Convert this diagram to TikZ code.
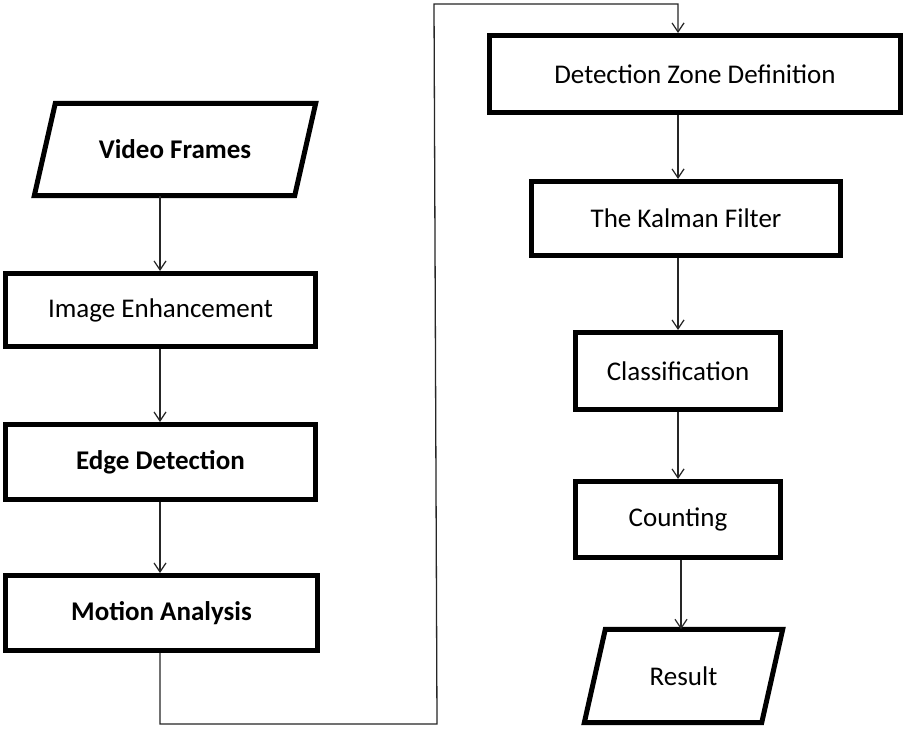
\documentclass[tikz,border=0pt]{standalone}
\usepackage{fontspec}
\setmainfont{Carlito}
\usetikzlibrary{arrows.meta,calc}
\begin{document}
\begin{tikzpicture}[x=1pt,y=-1pt,
  box/.style={draw=black,line width=5pt,inner sep=0pt,font=\fontsize{27}{30}\selectfont},
  ghost/.style={draw=none,inner sep=0pt,font=\fontsize{27}{30}\selectfont},
  para/.style={draw=black,line width=5pt,line join=miter},
  arr/.style={draw=black!85,line width=1.3pt,-{Straight Barb[length=9pt,width=12pt,line width=1.2pt]}},
  link/.style={draw=black!85,line width=1.3pt}]
\useasboundingbox (0,0) rectangle (917,733);
\fill[white] (0,0) rectangle (917,733);
% left column
\node[ghost,minimum width=281pt,minimum height=92pt] (vf) at (175,149.5) {\bfseries Video Frames};
\draw[para] ($(vf.north west)+(21,0)$) -- (vf.north east) -- ($(vf.south east)+(-21,0)$) -- (vf.south west) -- cycle;
\node[box,minimum width=310pt,minimum height=73pt] (ie) at (160.5,310) {Image Enhancement};
\node[box,minimum width=310pt,minimum height=75pt] (ed) at (160.5,462) {\bfseries Edge Detection};
\node[box,minimum width=312pt,minimum height=75pt] (ma) at (161.5,613) {\bfseries Motion Analysis};
% right column
\node[box,minimum width=411pt,minimum height=77pt] (dz) at (695,74) {Detection Zone Definition};
\node[box,minimum width=309pt,minimum height=74pt] (kf) at (686,218.5) {The Kalman Filter};
\node[box,minimum width=205pt,minimum height=77pt] (cl) at (678,371) {Classification};
\node[box,minimum width=205pt,minimum height=76pt] (co) at (678,519.5) {Counting};
\node[ghost,minimum width=198pt,minimum height=93pt] (re) at (683.5,676) {Result};
\draw[para] ($(re.north west)+(21,0)$) -- (re.north east) -- ($(re.south east)+(-21,0)$) -- (re.south west) -- cycle;
% connectors
\coordinate (colL) at (160,0);
\coordinate (colR) at (678,0);
\coordinate (b1) at (437,724);
\coordinate (b2) at (434,4);
\draw[arr] (vf.south -| colL) -- (ie.north -| colL);
\draw[arr] (ie.south -| colL) -- (ed.north -| colL);
\draw[arr] (ed.south -| colL) -- (ma.north -| colL);
\draw[arr] (ma.south -| colL) |- (b1) -- (b2) -| (dz.north -| colR);
\draw[arr] (dz.south -| colR) -- (kf.north -| colR);
\draw[arr] (kf.south -| colR) -- (cl.north -| colR);
\draw[arr] (cl.south -| colR) -- (co.north -| colR);
\draw[arr] ($(co.south -| colR)+(3,0)$) -- ($(re.north -| colR)+(3,0)$);
\end{tikzpicture}
\end{document}
